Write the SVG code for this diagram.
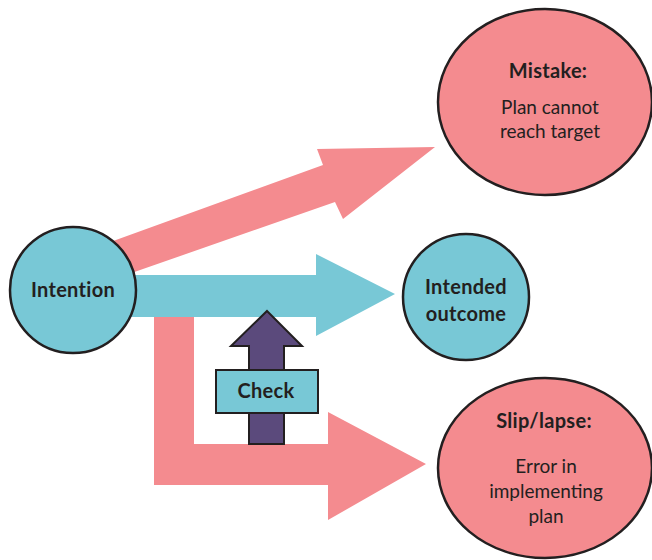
<svg xmlns="http://www.w3.org/2000/svg" width="652" height="560" viewBox="0 0 652 560">
<style>
.pink{fill:#f48b8f}
.cyan{fill:#78c8d6}
.node{stroke:#231f20;stroke-width:2.5}
.t{font-family:Lato,"Open Sans",sans-serif;fill:#231f20;text-anchor:middle;font-size:19px}
.b{font-weight:bold;font-size:20px;letter-spacing:0.3px}
</style>
<rect width="652" height="560" fill="#fff"/>
<g id="connectors">
<polygon class="pink" points="80,253 323,165 317,149 435,147 343,219 335,202 100,284"/>
<polygon class="cyan" points="100,275 316,275 316,254 395,294 316,336 316,317 100,317"/>
<polygon class="pink" points="154,317 194,317 194,444 328,444 328,412 426,464 328,520 328,485 154,485"/>
<polygon fill="#5b4a7c" stroke="#231f20" stroke-width="2" points="267,311 302,346 284,346 284,444 249,444 249,346 231,346"/>
</g>
<g id="check">
<rect x="216" y="370" width="102" height="43" class="cyan" stroke="#231f20" stroke-width="2"/>
<text class="t b" x="266" y="398">Check</text>
</g>
<g id="intention">
<circle cx="73" cy="290" r="63" class="cyan node"/>
<text class="t b" x="73" y="297">Intention</text>
</g>
<g id="intended">
<circle cx="466" cy="297" r="63" class="cyan node"/>
<text class="t b" x="466" y="294">Intended</text>
<text class="t b" x="466" y="321">outcome</text>
</g>
<g id="mistake">
<ellipse cx="545" cy="102" rx="107" ry="93" class="pink node"/>
<text class="t b" x="548" y="78">Mistake:</text>
<text class="t" x="550" y="114">Plan cannot</text>
<text class="t" x="550" y="138">reach target</text>
</g>
<g id="slip">
<ellipse cx="545" cy="468" rx="107" ry="90" class="pink node"/>
<text class="t b" x="544" y="428">Slip/lapse:</text>
<text class="t" x="546" y="473">Error in</text>
<text class="t" x="546" y="498">implementing</text>
<text class="t" x="546" y="523">plan</text>
</g>
</svg>
